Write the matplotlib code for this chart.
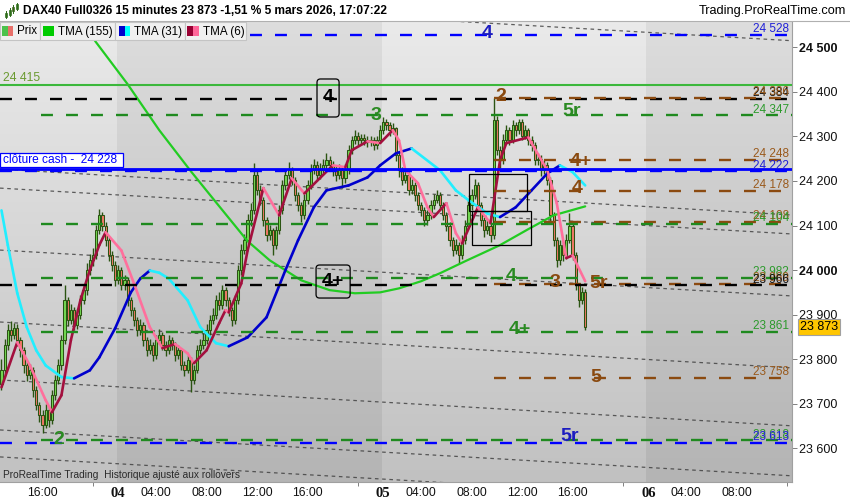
import numpy as np
import matplotlib
matplotlib.use("Agg")
import matplotlib.pyplot as plt
from matplotlib.collections import LineCollection
from matplotlib.patches import Rectangle, FancyBboxPatch
from matplotlib.lines import Line2D
import matplotlib.transforms as mtransforms

plt.rcParams['font.family'] = ['Liberation Sans', 'DejaVu Sans']
plt.rcParams['lines.scale_dashes'] = False

# ---------------- data : 15-minute candles (bar index 0 = 3 mars 12:45) ----------------
open_ = [23745, 23775, 23831, 23865, 23854, 23870, 23843, 23820, 23786, 23764,
         23775, 23730, 23697, 23674, 23652, 23685, 23663, 23719, 23753, 23786,
         23843, 23932, 23887, 23910, 23876, 23899, 23932, 23955, 24000, 24022,
         24033, 24089, 24123, 24100, 24067, 24033, 24011, 23977, 24000, 23966,
         23977, 23932, 23910, 23887, 23865, 23876, 23843, 23820, 23831, 23809,
         23843, 23854, 23831, 23820, 23843, 23831, 23809, 23820, 23786, 23775,
         23798, 23753, 23775, 23820, 23831, 23843, 23865, 23887, 23899, 23932,
         23921, 23955, 23932, 23910, 23887, 23932, 24000, 24044, 24067, 24112,
         24134, 24213, 24179, 24157, 24112, 24078, 24089, 24056, 24089, 24134,
         24190, 24213, 24224, 24202, 24168, 24145, 24123, 24157, 24190, 24224,
         24235, 24213, 24224, 24235, 24246, 24235, 24224, 24213, 24224, 24206,
         24224, 24269, 24291, 24302, 24291, 24296, 24291, 24287, 24291, 24280,
         24291, 24314, 24332, 24325, 24314, 24318, 24258, 24224, 24202, 24213,
         24179, 24190, 24168, 24145, 24134, 24112, 24123, 24145, 24157, 24168,
         24145, 24123, 24100, 24067, 24044, 24056, 24033, 24067, 24100, 24145,
         24168, 24190, 24145, 24112, 24089, 24100, 24078, 24336, 24269, 24246,
         24291, 24314, 24291, 24325, 24314, 24332, 24302, 24314, 24291, 24280,
         24246, 24250, 24224, 24235, 24202, 24123, 24067, 24022, 24056, 24033,
         24067, 24100, 24033, 23966, 23932, 23950]
high = [23800, 23845, 23880, 23885, 23882, 23878, 23850, 23828, 23795, 23790,
        23782, 23740, 23705, 23685, 23700, 23692, 23730, 23765, 23800, 23855,
        23966, 23940, 23925, 23918, 23912, 23945, 23968, 24015, 24035, 24050,
        24102, 24138, 24130, 24108, 24075, 24042, 24020, 24012, 24008, 23990,
        23985, 23940, 23918, 23895, 23890, 23884, 23850, 23845, 23838, 23855,
        23868, 23860, 23840, 23855, 23850, 23838, 23832, 23826, 23795, 23810,
        23805, 23788, 23832, 23845, 23858, 23880, 23900, 23915, 23945, 23950,
        23966, 23962, 23940, 23918, 23945, 24012, 24058, 24080, 24125, 24150,
        24240, 24225, 24190, 24165, 24120, 24102, 24095, 24100, 24145, 24202,
        24228, 24242, 24232, 24210, 24175, 24152, 24170, 24202, 24238, 24250,
        24245, 24240, 24250, 24262, 24255, 24245, 24235, 24238, 24232, 24238,
        24280, 24302, 24315, 24310, 24306, 24305, 24300, 24302, 24298, 24302,
        24325, 24343, 24340, 24332, 24330, 24322, 24265, 24232, 24228, 24220,
        24205, 24198, 24175, 24152, 24142, 24135, 24158, 24170, 24180, 24175,
        24152, 24130, 24108, 24075, 24070, 24062, 24078, 24112, 24158, 24182,
        24205, 24198, 24152, 24120, 24115, 24108, 24386, 24345, 24278, 24305,
        24326, 24322, 24336, 24332, 24340, 24338, 24325, 24320, 24300, 24288,
        24262, 24258, 24248, 24242, 24208, 24130, 24075, 24068, 24062, 24080,
        24128, 24108, 24040, 23972, 23962, 23958]
low = [23730, 23765, 23820, 23840, 23845, 23830, 23805, 23770, 23750, 23755,
       23715, 23685, 23660, 23634, 23645, 23648, 23655, 23708, 23745, 23775,
       23835, 23875, 23878, 23865, 23868, 23890, 23925, 23945, 23990, 24010,
       24025, 24080, 24088, 24055, 24020, 23998, 23965, 23968, 23955, 23955,
       23920, 23898, 23875, 23852, 23855, 23830, 23808, 23812, 23796, 23800,
       23835, 23820, 23808, 23812, 23820, 23795, 23800, 23775, 23762, 23768,
       23726, 23745, 23768, 23812, 23822, 23835, 23855, 23878, 23890, 23910,
       23912, 23920, 23898, 23875, 23880, 23925, 23990, 24035, 24058, 24100,
       24125, 24168, 24145, 24100, 24065, 24068, 24033, 24048, 24080, 24125,
       24180, 24205, 24190, 24155, 24132, 24107, 24115, 24148, 24182, 24215,
       24202, 24205, 24215, 24225, 24222, 24212, 24200, 24205, 24185, 24195,
       24215, 24260, 24282, 24280, 24282, 24280, 24276, 24278, 24270, 24272,
       24285, 24305, 24315, 24302, 24305, 24245, 24210, 24190, 24195, 24168,
       24170, 24155, 24135, 24122, 24100, 24102, 24115, 24138, 24150, 24135,
       24112, 24088, 24055, 24032, 24035, 24015, 24025, 24058, 24092, 24135,
       24160, 24135, 24100, 24075, 24080, 24062, 24070, 24258, 24230, 24238,
       24282, 24280, 24285, 24302, 24305, 24292, 24295, 24280, 24268, 24235,
       24235, 24212, 24215, 24190, 24110, 24055, 24006, 24012, 24020, 24025,
       24060, 24022, 23955, 23918, 23925, 23865]
close = [23775, 23831, 23865, 23854, 23870, 23843, 23820, 23786, 23764, 23775,
         23730, 23697, 23674, 23652, 23685, 23663, 23719, 23753, 23786, 23843,
         23932, 23887, 23910, 23876, 23899, 23932, 23955, 24000, 24022, 24033,
         24089, 24123, 24100, 24067, 24033, 24011, 23977, 24000, 23966, 23977,
         23932, 23910, 23887, 23865, 23876, 23843, 23820, 23831, 23809, 23843,
         23854, 23831, 23820, 23843, 23831, 23809, 23820, 23786, 23775, 23798,
         23753, 23775, 23820, 23831, 23843, 23865, 23887, 23899, 23932, 23921,
         23955, 23932, 23910, 23887, 23932, 24000, 24044, 24067, 24112, 24134,
         24213, 24179, 24157, 24112, 24078, 24089, 24056, 24089, 24134, 24190,
         24213, 24224, 24202, 24168, 24145, 24123, 24157, 24190, 24224, 24235,
         24213, 24224, 24235, 24246, 24235, 24224, 24213, 24224, 24206, 24224,
         24269, 24291, 24302, 24291, 24296, 24291, 24287, 24291, 24280, 24291,
         24314, 24332, 24325, 24314, 24318, 24258, 24224, 24202, 24213, 24179,
         24190, 24168, 24145, 24134, 24112, 24123, 24145, 24157, 24168, 24145,
         24123, 24100, 24067, 24044, 24056, 24033, 24067, 24100, 24145, 24168,
         24190, 24145, 24112, 24089, 24100, 24078, 24336, 24269, 24246, 24291,
         24314, 24291, 24325, 24314, 24332, 24302, 24314, 24291, 24280, 24246,
         24250, 24224, 24235, 24202, 24123, 24067, 24022, 24056, 24033, 24067,
         24100, 24033, 23966, 23932, 23950, 23873]

# moving averages (bar index, value)
tma155_i = [25, 30, 40, 50, 60, 68, 78, 85, 95, 104, 112, 120, 126, 133, 139, 147, 158, 167, 175, 185]
tma155_v = [24561, 24511, 24417, 24314, 24222, 24152, 24065, 24022, 23977, 23955,
            23948, 23950, 23959, 23975, 23993, 24020, 24056, 24092, 24123, 24143]
tma31_i = [0, 2, 5, 8, 11, 14, 19, 23, 28, 31, 36, 41, 44, 47, 50, 53, 59, 63, 68, 72, 78,
           84, 90, 94, 99, 103, 110, 116, 120, 125, 130, 139, 144, 148, 154, 158, 163,
           168, 173, 177, 181, 185]
tma31_v = [24134, 24056, 23948, 23872, 23820, 23786, 23760, 23757, 23775, 23804, 23869,
           23950, 23981, 23999, 23994, 23981, 23932, 23872, 23836, 23829, 23849, 23894,
           24000, 24067, 24141, 24179, 24190, 24208, 24235, 24262, 24273, 24224, 24179,
           24157, 24127, 24119, 24141, 24179, 24217, 24235, 24220, 24190]
tma6_i = [0, 5, 9, 14, 16, 19, 22, 25, 28, 31, 33, 38, 42, 47, 51, 55, 59, 61, 65, 69, 71,
          72, 76, 78, 83, 88, 92, 96, 105, 109, 111, 116, 120, 124, 126, 128, 132, 135,
          137, 141, 144, 146, 151, 155, 158, 160, 167, 168, 173, 176, 179, 181, 185]
tma6_v = [23737, 23838, 23786, 23708, 23681, 23719, 23843, 23932, 24000, 24056, 24085,
          24044, 23970, 23872, 23825, 23834, 23813, 23791, 23820, 23881, 23910, 23905,
          23970, 24044, 24184, 24123, 24206, 24172, 24235, 24231, 24269, 24289, 24285,
          24314, 24291, 24224, 24195, 24141, 24119, 24150, 24083, 24060, 24141, 24105,
          24246, 24285, 24298, 24285, 24224, 24150, 24027, 24033, 23975]

# horizontal levels
lvl_price = [24528, 24415, 24384, 24386, 24347, 24248, 24228, 24222, 24178, 24108,
             24104, 23982, 23969, 23966, 23861, 23758, 23618, 23613]
lvl_kind = ['blue_d', 'green_s', 'black_d', 'brown_d', 'green_d', 'brown_d', 'blue_s',
            'blue_d', 'brown_d', 'brown_d', 'green_d', 'green_d', 'brown_d', 'black_d',
            'green_d', 'brown_d', 'green_d', 'blue_d']
cash_close = 24228
last_price = 23873

# descending channel lines (value at bar 0, slope per bar)
chan_p0 = [24617.5, 24226.4, 24183.8, 24044.7, 23883.3, 23753.2, 23641.0, 23580.5]
chan_slope = -0.41

# wave labels
wave_txt = ['4', '3', '2', '5r', '4+', '4', '4', '3', '5r', '4+', '5', '5r', '2']
wave_kind = ['blue', 'green', 'brown', 'green', 'brown', 'brown', 'green', 'brown',
             'brown', 'green', 'brown', 'blue', 'green']
wave_x = [154.0, 118.7, 158.2, 180.8, 183.7, 182.6, 161.5, 175.4, 189.3, 164.3, 188.4, 180.2, 18.2]
wave_y = [24530, 24347, 24390, 24357, 24243, 24184, 23986, 23973, 23969, 23867, 23760, 23627, 23619]

# time axis
xt_major = [13, 37, 49, 65, 81, 97, 121, 133, 149, 165, 181, 205, 217, 233]
xt_labels = ['16:00', '04', '04:00', '08:00', '12:00', '16:00', '05', '04:00', '08:00',
             '12:00', '16:00', '06', '04:00', '08:00']
xt_minor = [29, 113, 197, 249]
day_starts = [36.5, 120.5, 204.5]
yt = [23600, 23700, 23800, 23900, 24000, 24100, 24200, 24300, 24400, 24500]

# ---------------- figure ----------------
W, H = 850, 500
fig = plt.figure(figsize=(8.5, 5), dpi=100)
fig.patch.set_facecolor('white')
ax = fig.add_axes([0, 18 / H, 792 / W, 460 / H])
XL = (-0.475, 250.55)
YL = (23524.4, 24556.8)

# background (day shading + vertical gradient)
ncol = 792
xs_img = np.linspace(XL[0], XL[1], ncol)
dark = ((xs_img > day_starts[0]) & (xs_img < day_starts[1])) | (xs_img > day_starts[2])
tt = np.linspace(0, 1, 230)[:, None]
topc = np.where(dark, 221, 234)[None, :]
botc = np.where(dark, 180, 193)[None, :]
img = (topc + (botc - topc) * tt) / 255.0
ax.imshow(np.dstack([img, img, img]), extent=[XL[0], XL[1], YL[0], YL[1]],
          aspect='auto', origin='upper', zorder=0, interpolation='nearest')

COL = {'blue': '#0000ff', 'green': '#1f8a1f', 'brown': '#8b4a10', 'black': '#000000'}
TXT = {'blue': '#2020d8', 'green': '#2c9a2c', 'brown': '#9a5a1c', 'black': '#111111'}
WAVE = {'blue': '#1c1cc0', 'green': '#2a8a22', 'brown': '#8a4a10'}

# channel lines
xx = np.array(XL)
for p0 in chan_p0:
    ax.plot(xx, p0 + chan_slope * xx, color='#3a3a3a', lw=0.9, alpha=0.8,
            dashes=(2.6, 2.6), zorder=2)

# candles
o = np.array(open_, float); c = np.array(close, float)
hi = np.array(high, float); lo = np.array(low, float)
xi = np.arange(len(c))
up = c >= o
edge = '#2b5412'
ax.vlines(xi, lo, hi, color=edge, lw=1.0, zorder=3)
ax.bar(xi, np.maximum(np.abs(c - o), 2.5), bottom=np.minimum(o, c), width=0.7,
       color=np.where(up, '#74d853', '#ef7866'), edgecolor=edge, linewidth=0.75, zorder=3.1)


def slope_line(xv, yv, cu, cd, lw, z):
    xv = np.asarray(xv, float); yv = np.asarray(yv, float)
    pts = np.column_stack([xv, yv])
    segs = np.stack([pts[:-1], pts[1:]], axis=1)
    cols = [cu if yv[k + 1] >= yv[k] else cd for k in range(len(yv) - 1)]
    ax.add_collection(LineCollection(segs, colors=cols, linewidths=lw, zorder=z,
                                     capstyle='round', joinstyle='round'))


ax.plot(tma155_i, tma155_v, color='#22cc22', lw=1.6, zorder=4, solid_capstyle='round')
slope_line(tma31_i, tma31_v, '#0000cc', '#22eeff', 1.9, 4.1)
slope_line(tma6_i, tma6_v, '#a3103e', '#ff6f9c', 1.9, 4.2)

# horizontal levels
for p, k in zip(lvl_price, lvl_kind):
    cname, st = k.split('_')
    start = XL[0]
    if k == 'green_d':
        start = 12.5
    elif k == 'brown_d':
        start = 156.0
    if st == 's':
        lw = 1.5 if cname == 'green' else 2.0
        col = '#3cb83c' if cname == 'green' else '#0000ff'
        ax.plot([start, XL[1]], [p, p], color=col, lw=lw, zorder=5)
    else:
        ax.plot([start, XL[1]], [p, p], color=COL[cname], lw=1.7,
                dashes=(8.6, 9.4), zorder=5)

# right-side level values
tr = mtransforms.blended_transform_factory(ax.transAxes, ax.transData)
for p, k in zip(lvl_price, lvl_kind):
    cname, st = k.split('_')
    if st == 's':
        continue
    ax.annotate(f"{p // 1000} {p % 1000:03d}", xy=(1.0, p), xycoords=tr,
                xytext=(-2.2, 1.9), textcoords='offset points', ha='right', va='baseline',
                fontsize=8.5, color=TXT[cname], zorder=7)

# wave labels
for t, k, x0, y0 in zip(wave_txt, wave_kind, wave_x, wave_y):
    ax.text(x0, y0, t, color=WAVE[k], fontsize=14, fontweight='bold',
            ha='center', va='center', zorder=8)

# boxed black labels
for t, x0, y0, bx in [('4', 103.5, 24387, (100.0, 24343.6, 7.0, 85.3)),
                      ('4+', 105.1, 23975, (99.7, 23937.3, 10.8, 74.1))]:
    ax.add_patch(FancyBboxPatch((bx[0], bx[1]), bx[2], bx[3],
                                boxstyle='round,pad=0,rounding_size=1.1',
                                mutation_aspect=7.08, fc='none', ec='black', lw=0.9, zorder=8))
    ax.text(x0, y0, t, color='black', fontsize=14, fontweight='bold',
            ha='center', va='center', zorder=8)

# rectangles
for bx in [(148.2, 24132.6, 18.4, 83.0), (149.1, 24056.3, 18.7, 76.3)]:
    ax.add_patch(Rectangle((bx[0], bx[1]), bx[2], bx[3], fc='none', ec='black', lw=0.9, zorder=6))

# left texts
ax.add_patch(Rectangle((XL[0], 24231.5), 39.0, 31.4, fc='white', ec='#0000ff', lw=0.9, zorder=9))
ax.text(0.5, 24247, f"clôture cash -  {cash_close // 1000} {cash_close % 1000:03d}",
        color='#0000ff', fontsize=8.6, ha='left', va='center', zorder=10)
ax.text(0.5, 24430, "24 415", color='#6a9a30', fontsize=8.8, ha='left', va='center', zorder=7)

# axes cosmetics
ax.set_xlim(*XL)
ax.set_ylim(*YL)
for s in ['top', 'left']:
    ax.spines[s].set_visible(False)
for s in ['right', 'bottom']:
    ax.spines[s].set_color('#a0a0a0')
    ax.spines[s].set_linewidth(0.8)
ax.yaxis.tick_right()
ax.set_yticks(yt)
ax.set_yticklabels([f"{v // 1000} {v % 1000:03d}" for v in yt])
ax.tick_params(axis='y', direction='out', length=3.6, width=0.7, color='#808080',
               pad=1.5, labelsize=9, labelcolor='#111111')
for lab, v in zip(ax.get_yticklabels(), yt):
    if v % 500 == 0:
        lab.set_fontweight('bold')
ax.set_xticks(xt_major)
ax.set_xticklabels(xt_labels)
ax.set_xticks(xt_minor, minor=True)
ax.tick_params(axis='x', which='major', length=0, pad=3.5, labelsize=8.7, labelcolor='#111111')
ax.tick_params(axis='x', which='minor', length=3.0, width=0.7, color='#808080')
for lab in ax.get_xticklabels():
    if len(lab.get_text()) == 2:
        lab.set_fontfamily(['Liberation Serif', 'DejaVu Serif'])
        lab.set_fontweight('bold')
        lab.set_fontsize(10.5)

# last price tag
ax.annotate(f"{last_price // 1000} {last_price % 1000:03d}", xy=(1.0, last_price), xycoords=tr,
            xytext=(5.4, 0), textcoords='offset points', ha='left', va='center',
            fontsize=9, color='black', annotation_clip=False, zorder=10,
            bbox=dict(boxstyle='square,pad=0.16', fc='#ffc600', ec='#a0a0a0', lw=0.8))


# ---------------- chrome (title / legend) ----------------
def fbox(x0, y0, x1, y1, **kw):
    r = Rectangle((x0 / W, 1 - y1 / H), (x1 - x0) / W, (y1 - y0) / H,
                  transform=fig.transFigure, **kw)
    fig.add_artist(r)


def ftext(x, y, s, **kw):
    fig.text(x / W, 1 - y / H, s, **kw)


fig.add_artist(Line2D([0, 1], [1 - 21 / H, 1 - 21 / H], transform=fig.transFigure,
                      color='#b0b0b0', lw=0.8))
# icon
for (x0, y0, y1, yl, yh, colr) in [(5, 13, 17, 11, 18, '#3f9a2a'), (8.5, 10, 15, 8, 16, '#3f9a2a'),
                                   (12, 7, 11, 5, 13, '#cf5a4a'), (15.5, 4, 9, 3, 10, '#3f9a2a')]:
    fig.add_artist(Line2D([(x0 + 1.2) / W] * 2, [1 - yh / H, 1 - yl / H],
                          transform=fig.transFigure, color='#2e6a1a', lw=0.7))
    fbox(x0, y0, x0 + 2.4, y1, fc=colr, ec='#2e6a1a', lw=0.5)
ftext(23, 11, "DAX40 Full0326 15 minutes 23 873 -1,51 % 5 mars 2026, 17:07:22",
      fontsize=8.6, fontweight='bold', va='center', ha='left', color='black')
ftext(846, 11, "Trading.ProRealTime.com", fontsize=9.2, va='center', ha='right', color='black')

# legend bar
for x0, x1 in [(0, 39.5), (39.5, 115), (115, 184.5), (184.5, 246)]:
    fbox(x0, 22, x1, 40, fc='#f0f0f0', ec='#c4c4c4', lw=0.8, zorder=20)
for x0, x1, colr in [(2, 8, '#4cc24c'), (8, 13, '#e8706a'), (43, 54, '#00cc00'),
                     (119, 124.5, '#0000cc'), (124.5, 130, '#00ffff'),
                     (187, 193, '#990033'), (193, 199, '#ff6699')]:
    fbox(x0, 26, x1, 36, fc=colr, ec='none', zorder=21)
for x0, s in [(17, 'Prix'), (58, 'TMA (155)'), (134, 'TMA (31)'), (203, 'TMA (6)')]:
    ftext(x0, 31.5, s, fontsize=8.4, va='center', ha='left', color='black', zorder=22)

ftext(3, 475.5, "ProRealTime Trading  Historique ajusté aux rollovers", fontsize=7.3,
      va='center', ha='left', color='#2a2a2a', zorder=22)

fig.savefig('out.png', dpi=100)
